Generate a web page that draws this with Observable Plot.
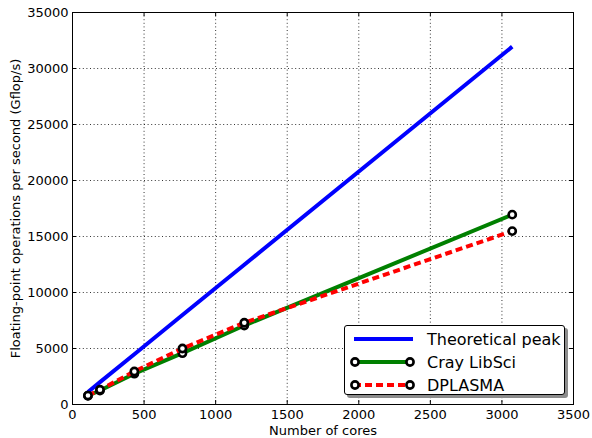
<!DOCTYPE html>
<html><head><meta charset="utf-8">
<script src="https://cdn.jsdelivr.net/npm/d3@7"></script>
<script src="https://cdn.jsdelivr.net/npm/@observablehq/plot@0.6"></script>
<style>
body{margin:0;background:#fff;}
#wrap{position:relative;width:592px;height:438px;font-family:"DejaVu Sans",sans-serif;}
#legend{position:absolute;left:344px;top:325px;width:221px;height:70px;border:1px solid #000;border-radius:3px;background:#fff;box-shadow:3px 3px 0 #8c8c8c;box-sizing:border-box;}
.row{position:absolute;left:0;height:20px;display:flex;align-items:center;}
.row svg{margin-left:4px;overflow:visible;}
.row span{margin-left:12px;font-size:16px;color:#000;}
</style></head><body><div id="wrap"></div>
<script>
const cores = [108, 192, 432, 768, 1200, 3072];
const peak = [1120, 2000, 4490, 7990, 12480, 31950];
const libsci = [780, 1250, 2750, 4580, 7050, 16950];
const dplasma = [800, 1320, 2950, 5000, 7300, 15480];
const xTicks = [0, 500, 1000, 1500, 2000, 2500, 3000, 3500];
const yTicks = [0, 5000, 10000, 15000, 20000, 25000, 30000, 35000];
const seriesNames = ["Theoretical peak", "Cray LibSci", "DPLASMA"];
const seriesColors = ["#0000ff", "#008000", "#ff0000"];

const W = 592, H = 438, mL = 72, mR = 19, mT = 12, mB = 34;
const pw = W - mL - mR, ph = H - mT - mB;

const toRows = (vals) => cores.map((c, i) => ({x: c, y: vals[i]}));
const peakRows = toRows(peak), libRows = toRows(libsci), dplRows = toRows(dplasma);
const grid = {stroke: "#000", strokeWidth: 0.8, strokeDasharray: "1,2.6"};
const tk = 4;

const chart = Plot.plot({
  width: W, height: H,
  marginLeft: mL, marginRight: mR, marginTop: mT, marginBottom: mB,
  style: {fontFamily: "DejaVu Sans, sans-serif", fontSize: "13px", background: "#fff", color: "#000"},
  x: {domain: [0, 3500]},
  y: {domain: [0, 35000]},
  marks: [
    Plot.ruleX(xTicks.slice(1, -1), {x: d => d, ...grid}),
    Plot.ruleY(yTicks.slice(1, -1), {y: d => d, ...grid}),
    Plot.ruleX(xTicks, {x: d => d, insetTop: ph - tk, stroke: "#000"}),
    Plot.ruleX(xTicks, {x: d => d, insetBottom: ph - tk, stroke: "#000"}),
    Plot.ruleY(yTicks, {y: d => d, insetRight: pw - tk, stroke: "#000"}),
    Plot.ruleY(yTicks, {y: d => d, insetLeft: pw - tk, stroke: "#000"}),
    Plot.axisX(xTicks, {tickSize: 0, tickPadding: 5, tickFormat: d => String(d), fontSize: 13,
      label: "Number of cores", labelAnchor: "center", labelOffset: 30, labelArrow: "none"}),
    Plot.axisY(yTicks, {tickSize: 0, tickPadding: 4, tickFormat: d => String(d), fontSize: 13,
      label: "Floating-point operations per second (Gflop/s)", labelAnchor: "center", labelOffset: 62, labelArrow: "none"}),
    Plot.line(peakRows, {x: "x", y: "y", stroke: seriesColors[0], strokeWidth: 4, strokeLinecap: "butt"}),
    Plot.line(libRows, {x: "x", y: "y", stroke: seriesColors[1], strokeWidth: 4, strokeLinecap: "butt"}),
    Plot.dot(libRows, {x: "x", y: "y", r: 3.6, stroke: "#000", strokeWidth: 2.6, fill: "#fff"}),
    Plot.line(dplRows, {x: "x", y: "y", stroke: seriesColors[2], strokeWidth: 4, strokeDasharray: "7,4", strokeLinecap: "butt"}),
    Plot.dot(dplRows, {x: "x", y: "y", r: 3.6, stroke: "#000", strokeWidth: 2.6, fill: "#fff"}),
    Plot.frame({stroke: "#000", strokeWidth: 1})
  ]
});
const wrap = document.getElementById("wrap");
wrap.appendChild(chart);

// legend
const leg = document.createElement("div");
leg.id = "legend";
const rowsTop = [3, 26, 49];
seriesNames.forEach((name, i) => {
  const row = document.createElement("div");
  row.className = "row";
  row.style.top = rowsTop[i] + "px";
  const ns = "http://www.w3.org/2000/svg";
  const svg = document.createElementNS(ns, "svg");
  svg.setAttribute("width", 66); svg.setAttribute("height", 20);
  const ln = document.createElementNS(ns, "line");
  ln.setAttribute("x1", 5); ln.setAttribute("x2", 64);
  ln.setAttribute("y1", 10); ln.setAttribute("y2", 10);
  ln.setAttribute("stroke", seriesColors[i]); ln.setAttribute("stroke-width", 4);
  if (i === 2) ln.setAttribute("stroke-dasharray", "7,4");
  svg.appendChild(ln);
  if (i > 0) {
    [6, 61].forEach(cx => {
      const c = document.createElementNS(ns, "circle");
      c.setAttribute("cx", cx); c.setAttribute("cy", 10); c.setAttribute("r", 3.6);
      c.setAttribute("fill", "#fff"); c.setAttribute("stroke", "#000"); c.setAttribute("stroke-width", 2.6);
      svg.appendChild(c);
    });
  }
  row.appendChild(svg);
  const sp = document.createElement("span");
  sp.textContent = name;
  row.appendChild(sp);
  leg.appendChild(row);
});
wrap.appendChild(leg);
</script></body></html>
